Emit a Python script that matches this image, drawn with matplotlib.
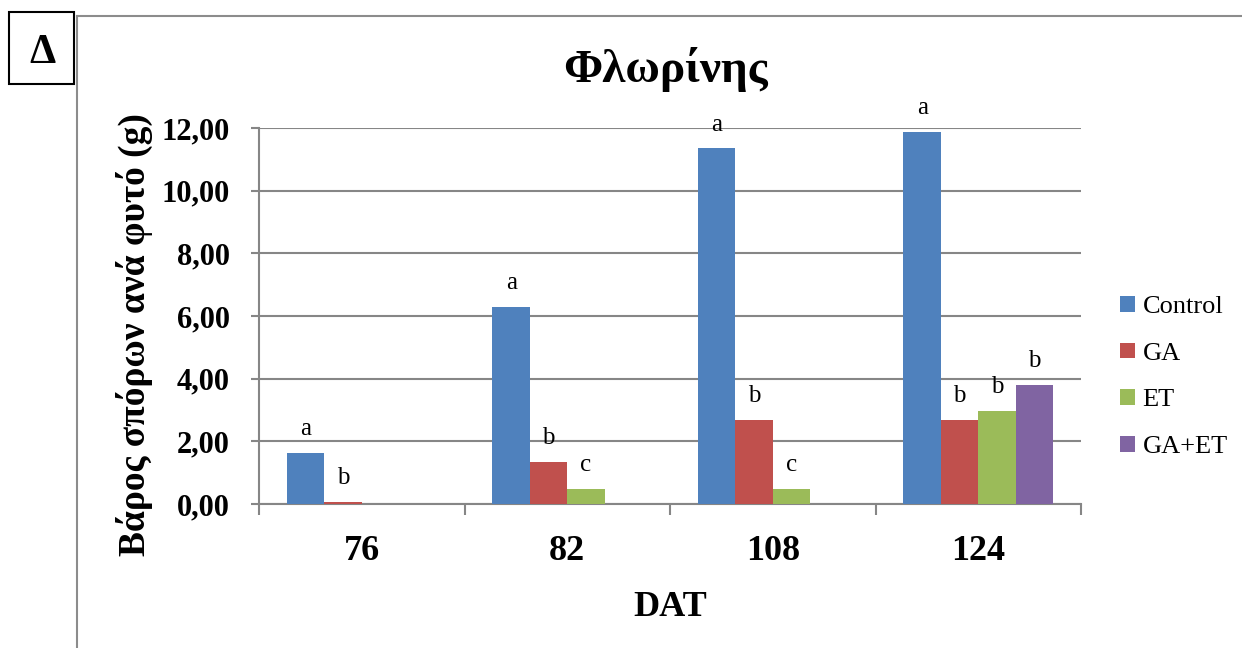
import numpy as np
import matplotlib
matplotlib.use('Agg')
from matplotlib import pyplot as plt
from matplotlib.patches import Rectangle
from matplotlib.lines import Line2D
from matplotlib.ticker import FuncFormatter, FixedLocator

# data
days = ['76', '82', '108', '124']
series = ['Control', 'GA', 'ET', 'GA+ET']
control = [1.64, 6.29, 11.35, 11.87]
ga = [0.07, 1.34, 2.68, 2.68]
et = [0.0, 0.49, 0.49, 2.97]
ga_et = [0.0, 0.0, 0.0, 3.80]
letters_control = ['a', 'a', 'a', 'a']
letters_ga = ['b', 'b', 'b', 'b']
letters_et = ['', 'c', 'c', 'b']
letters_ga_et = ['', '', '', 'b']
colors = ['#4F81BD', '#C0504D', '#9BBB59', '#8064A2']

plt.rcParams['font.family'] = ['Liberation Serif', 'DejaVu Serif']

W, H = 1242, 648
fig = plt.figure(figsize=(W / 100, H / 100), dpi=100)
ax = fig.add_axes([259 / W, 1 - 504 / H, (1081 - 259) / W, (504 - 128) / H])

values = [control, ga, et, ga_et]
letters = [letters_control, letters_ga, letters_et, letters_ga_et]
x = np.arange(len(days))
w = 0.182
offsets = [-1.5, -0.5, 0.5, 1.5]

for vals, lets, col, off, name in zip(values, letters, colors, offsets, series):
    ax.bar(x + off * w, vals, width=w, color=col, label=name, zorder=3)
    for xi, v, t in zip(x + off * w, vals, lets):
        if t:
            ax.annotate(t, (xi, v), xytext=(0, 17), textcoords='offset points',
                        ha='center', va='center', fontsize=18)

grey = '#868686'
ax.set_xlim(-0.5, 3.5)
ax.set_ylim(0, 12)
ax.set_yticks(np.arange(0, 13, 2))
ax.yaxis.set_major_formatter(FuncFormatter(lambda v, p: f'{v:.2f}'.replace('.', ',')))
ax.yaxis.grid(True, color=grey, lw=1.5, zorder=0)
ax.set_axisbelow(True)
ax.set_xticks(x)
ax.set_xticklabels(days)
ax.xaxis.set_minor_locator(FixedLocator(np.arange(-0.5, 4, 1)))
ax.tick_params(axis='x', which='major', length=0, pad=22, labelsize=26)
ax.tick_params(axis='x', which='minor', length=8, width=1.5, color=grey, direction='out')
ax.tick_params(axis='y', length=6, width=1.5, color=grey, pad=15, labelsize=22)
for lab in ax.get_xticklabels() + ax.get_yticklabels():
    lab.set_fontweight('bold')
for s in ['top', 'right']:
    ax.spines[s].set_visible(False)
for s in ['left', 'bottom']:
    ax.spines[s].set_color(grey)
    ax.spines[s].set_linewidth(1.5)

ax.set_xlabel('DAT', fontsize=26, fontweight='bold', labelpad=17)
fig.text(134 / W, 1 - 335 / H, 'Βάρος σπόρων ανά φυτό (g)', rotation=90,
         ha='center', va='center', fontsize=27, fontweight='bold')
fig.text(665 / W, 1 - 70 / H, 'Φλωρίνης', ha='center', va='center',
         fontsize=34, fontweight='bold')

fig.legend(loc='center left', bbox_to_anchor=(1120 / W, 1 - 377 / H), frameon=False,
           fontsize=19, handlelength=0.55, handleheight=0.55, handletextpad=0.3,
           labelspacing=0.92, borderpad=0, borderaxespad=0)

# outer frame pieces and the panel letter box
fig.add_artist(Line2D([76.5 / W, 76.5 / W], [0, 1 - 16 / H], color='#8c8c8c', lw=1.5,
                      transform=fig.transFigure))
fig.add_artist(Line2D([76.5 / W, 1], [1 - 16 / H, 1 - 16 / H], color='#8c8c8c', lw=1.5,
                      transform=fig.transFigure))
fig.add_artist(Rectangle((8.5 / W, 1 - 84 / H), 65 / W, 72 / H, fill=False,
                         edgecolor='black', lw=1.5, transform=fig.transFigure))
fig.text(42 / W, 1 - 53 / H, 'Δ', ha='center', va='center', fontsize=30, fontweight='bold')

fig.savefig('out.png', dpi=100)
